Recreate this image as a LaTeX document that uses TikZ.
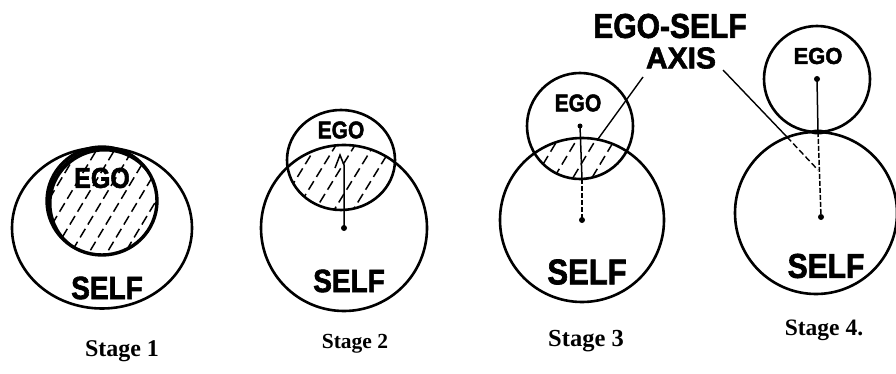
\documentclass[tikz,border=0pt]{standalone}
\usepackage{fontspec}
\setmainfont{Liberation Serif}
\newfontfamily\handfont{Liberation Sans Bold}[FakeBold=2]
\newfontfamily\stagefont{Liberation Serif Bold}
\usetikzlibrary{calc}
\begin{document}
\begin{tikzpicture}[x=1pt,y=-1pt,
  ring/.style={line width=2.6pt},
  hatch/.style={line width=1.5pt, dash pattern=on 10pt off 5pt},
  axisline/.style={line width=1.5pt},
  leader/.style={line width=1.4pt},
  hand/.style={inner sep=0pt, font=\handfont\fontsize{#1}{#1}\selectfont},
  stagelabel/.style={inner sep=0pt, font=\stagefont\fontsize{#1}{#1}\selectfont},
  dotmark/.style={fill=black}]
\useasboundingbox (0,0) rectangle (896,374);
% centres
\coordinate (s1) at (102,228);
\coordinate (e1) at (102,201);
\coordinate (s2) at (344,228);
\coordinate (e2) at (341,160);
\coordinate (s3) at (582,220);
\coordinate (e3) at (580,126);
\coordinate (s4) at (816,213);
\coordinate (e4) at (817,79);
% ---------- Stage 1 ----------
\begin{scope}
  \clip (e1) ellipse [x radius=55pt, y radius=54pt];
  \foreach \k in {-6,...,6}
    \draw[hatch] ($(e1)+(\k*18-45,75)$) -- ++(90,-150);
  \draw[line width=4pt] ($(e1)+(2.5,2.5)$) ellipse [x radius=55pt, y radius=54pt];
\end{scope}
\draw[ring] (s1) ellipse [x radius=90pt, y radius=80.5pt];
\draw[line width=3.4pt] (e1) ellipse [x radius=55pt, y radius=54pt];
\node[hand=25] (ego1) at (102,178) {\scalebox{1}[1.15]{EGO}};
\node[hand=28] (self1) at (107,288) {\scalebox{1}[1.15]{SELF}};
\node[stagelabel=24] (st1) at (122,351) {Stage 1};
% ---------- Stage 2 ----------
\begin{scope}
  \clip (e2) ellipse [x radius=54pt, y radius=50pt];
  \clip (s2) circle [radius=83pt];
  \foreach \k in {-6,...,6}
    \draw[hatch] ($(s2)+(\k*19-40,0)$) -- ++(80,-130);
\end{scope}
\draw[ring] (s2) circle [radius=83pt];
\draw[ring] (e2) ellipse [x radius=54pt, y radius=50pt];
\coordinate (z2a) at (344,165);
\coordinate (z2b) at (340,155);
\coordinate (z2c) at (335,168);
\draw[axisline] (s2) -- (z2a) -- (z2b) -- (z2c);
\fill[dotmark] (s2) circle [radius=3pt];
\node[hand=21] (ego2) at (341,130) {\scalebox{1}[1.15]{EGO}};
\node[hand=28] (self2) at (349,281) {\scalebox{1}[1.15]{SELF}};
\node[stagelabel=21.5] (st2) at (355,344) {Stage 2};
% ---------- Stage 3 ----------
\begin{scope}
  \clip (e3) circle [radius=53pt];
  \clip (s3) circle [radius=82pt];
  \foreach \k in {-6,...,6}
    \draw[hatch] ($(e3)+(\k*19-30,90)$) -- ++(60,-100);
\end{scope}
\draw[ring] (s3) circle [radius=82pt];
\draw[ring] (e3) circle [radius=53pt];
\coordinate (lens3) at (582,179);
\draw[axisline] (e3) -- (lens3);
\draw[axisline, dash pattern=on 5pt off 2pt] (lens3) -- (s3);
\fill[dotmark] (e3) circle [radius=2.5pt];
\fill[dotmark] (s3) circle [radius=3pt];
\node[hand=21] (ego3) at (578,103) {\scalebox{1}[1.15]{EGO}};
\node[hand=31] (self3) at (587,272) {\scalebox{1}[1.15]{SELF}};
\node[stagelabel=24.5] (st3) at (586,341) {Stage 3};
% ---------- Stage 4 ----------
\draw[ring] (s4) circle [radius=81pt];
\draw[ring] (e4) circle [radius=53pt];
\fill (818,132) ellipse [x radius=8pt, y radius=2.5pt];
\coordinate (t4) at (818,132);
\draw[axisline] (e4) -- (t4);
\draw[axisline, dash pattern=on 5pt off 2pt] (t4) -- (821,217);
\fill[dotmark] (e4) circle [radius=3pt];
\fill[dotmark] (821,217) circle [radius=3pt];
\node[hand=22] (ego4) at (818,56) {\scalebox{1}[1.05]{EGO}};
\node[hand=30] (self4) at (826,266) {\scalebox{1}[1.15]{SELF}};
\node[stagelabel=23.5] (st4) at (824,330) {Stage 4.};
% ---------- EGO-SELF AXIS ----------
\node[hand=30] (axtitle) at (670,26) {\scalebox{1}[1.15]{EGO-SELF}};
\node[hand=30] (axis) at (681,58) {\scalebox{1}[1.0]{AXIS}};
\coordinate (l3a) at (643,77);
\coordinate (l3b) at (598,139);
\draw[leader] (l3a) -- (l3b);
\coordinate (l4a) at (723,70);
\coordinate (l4m) at (787,137);
\coordinate (l4b) at (818,170);
\draw[leader] (l4a) -- (l4m);
\draw[leader, dash pattern=on 6pt off 3pt] (l4m) -- (l4b);
\end{tikzpicture}
\end{document}
